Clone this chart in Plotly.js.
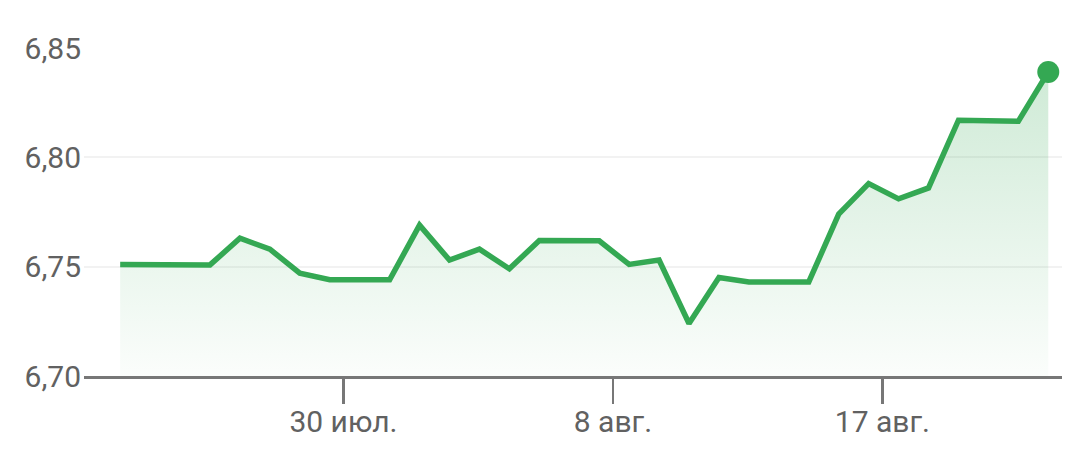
<!DOCTYPE html>
<html>
<head>
<meta charset="utf-8">
<script src="https://cdn.plot.ly/plotly-3.0.1.min.js"></script>
<style>
  html, body { margin: 0; padding: 0; background: #fff; }
  #chart { width: 1080px; height: 449px; }
</style>
</head>
<body>
<div id="chart"></div>
<script>
// daily rate, 22 Jul - 22 Aug
const dates = [
  '2023-07-22', '2023-07-23', '2023-07-24', '2023-07-25', '2023-07-26', '2023-07-27',
  '2023-07-28', '2023-07-29', '2023-07-30', '2023-07-31', '2023-08-01', '2023-08-02',
  '2023-08-03', '2023-08-04', '2023-08-05', '2023-08-06', '2023-08-07', '2023-08-08',
  '2023-08-09', '2023-08-10', '2023-08-11', '2023-08-12', '2023-08-13', '2023-08-14',
  '2023-08-15', '2023-08-16', '2023-08-17', '2023-08-18', '2023-08-19', '2023-08-20',
  '2023-08-21', '2023-08-22'
];
const rates = [
  6.751, 6.751, 6.7512, 6.7508, 6.763, 6.758,
  6.747, 6.744, 6.744, 6.744, 6.769, 6.753,
  6.758, 6.749, 6.762, 6.762, 6.7618, 6.751,
  6.753, 6.724, 6.745, 6.743, 6.743, 6.743,
  6.774, 6.788, 6.781, 6.786, 6.817, 6.817,
  6.8165, 6.839
];
const tickDates = ['2023-07-30', '2023-08-08', '2023-08-17'];
const tickLabels = ['30 июл.', '8 авг.', '17 авг.'];
const yTicks = [6.70, 6.75, 6.80, 6.85];

const green = '#34a853';
const xs = dates.map(d => d + ' 13:00');
const last = xs.length - 1;

const data = [
  {
    type: 'scatter',
    mode: 'lines',
    x: xs,
    y: rates,
    line: { color: green, width: 5.5 },
    fill: 'tozeroy',
    fillgradient: {
      type: 'vertical',
      start: 6.70,
      stop: 6.84,
      colorscale: [[0, 'rgba(52,168,83,0.02)'], [1, 'rgba(52,168,83,0.24)']]
    },
    hoverinfo: 'skip'
  },
  {
    type: 'scatter',
    mode: 'markers',
    x: [xs[last]],
    y: [rates[last]],
    marker: { color: green, size: 22 },
    cliponaxis: false,
    hoverinfo: 'skip'
  }
];

const layout = {
  width: 1080,
  height: 449,
  margin: { l: 84, r: 18, t: 48, b: 73 },
  paper_bgcolor: '#fff',
  plot_bgcolor: '#fff',
  showlegend: false,
  separators: ', ',
  font: { family: 'Roboto', color: '#616161', size: 30 },
  xaxis: {
    type: 'date',
    range: ['2023-07-21 08:00', '2023-08-23 00:00'],
    tickvals: tickDates,
    ticktext: tickLabels,
    ticks: 'outside',
    ticklen: 25,
    tickwidth: 2.5,
    tickcolor: '#777',
    ticklabelstandoff: -8,
    showgrid: false,
    showline: true,
    linecolor: '#777',
    linewidth: 2.5,
    zeroline: false,
    tickfont: { size: 30, color: '#616161' },
    fixedrange: true
  },
  yaxis: {
    range: [6.70, 6.85],
    tickvals: yTicks,
    tickformat: '.2f',
    showgrid: true,
    gridcolor: '#f2f2f2',
    gridwidth: 2,
    zeroline: false,
    showline: false,
    ticks: '',
    ticklabelstandoff: 2,
    tickfont: { size: 30, color: '#616161' },
    fixedrange: true
  }
};

Plotly.newPlot('chart', data, layout, { displayModeBar: false, staticPlot: true });
</script>
</body>
</html>
